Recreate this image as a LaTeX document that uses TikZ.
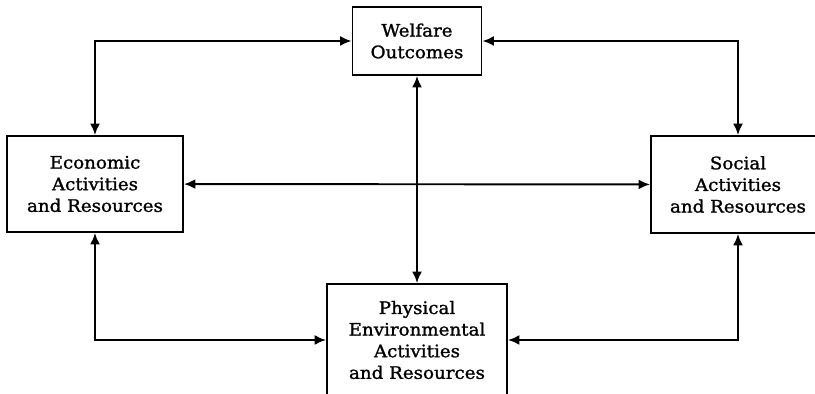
\documentclass[tikz,border=0pt]{standalone}
\usepackage{fontspec}
\setmainfont{DejaVu Serif}[FakeStretch=1.06,FakeBold=1.3]
\usetikzlibrary{arrows.meta}

\begin{document}
\begin{tikzpicture}[
    box/.style={draw, line width=1.1pt, align=center, inner sep=0pt,
      font=\fontsize{9.8}{12.3}\selectfont},
    link/.style={{Latex[length=2.3mm,width=2mm]}-{Latex[length=2.3mm,width=2mm]}, line width=1.1pt}]
    \useasboundingbox (0,0) rectangle (16.3,7.88);
    \node (welfare) at (8.34,7.06) [box, minimum width=2.58cm, minimum height=1.36cm] {Welfare\\Outcomes};
    \node (econ) at (1.90,4.20) [box, minimum width=3.52cm, minimum height=1.92cm] {Economic\\Activities\\and Resources};
    \node (social) at (14.76,4.19) [box, minimum width=3.48cm, minimum height=1.94cm] {Social\\Activities\\and Resources};
    \node (phys) at (8.34,1.08) [box, minimum width=3.60cm, minimum height=2.24cm] {Physical\\Environmental\\Activities\\and Resources};
    \draw[link] (econ.north) |- (welfare.west);
    \draw[link] (welfare.east) -| (social.north);
    \draw[link] (econ) -- (social);
    \draw[link] (welfare) -- (phys);
    \draw[link] (econ.south) |- (phys.west);
    \draw[link] (social.south) |- (phys.east);
  \end{tikzpicture}
\end{document}
